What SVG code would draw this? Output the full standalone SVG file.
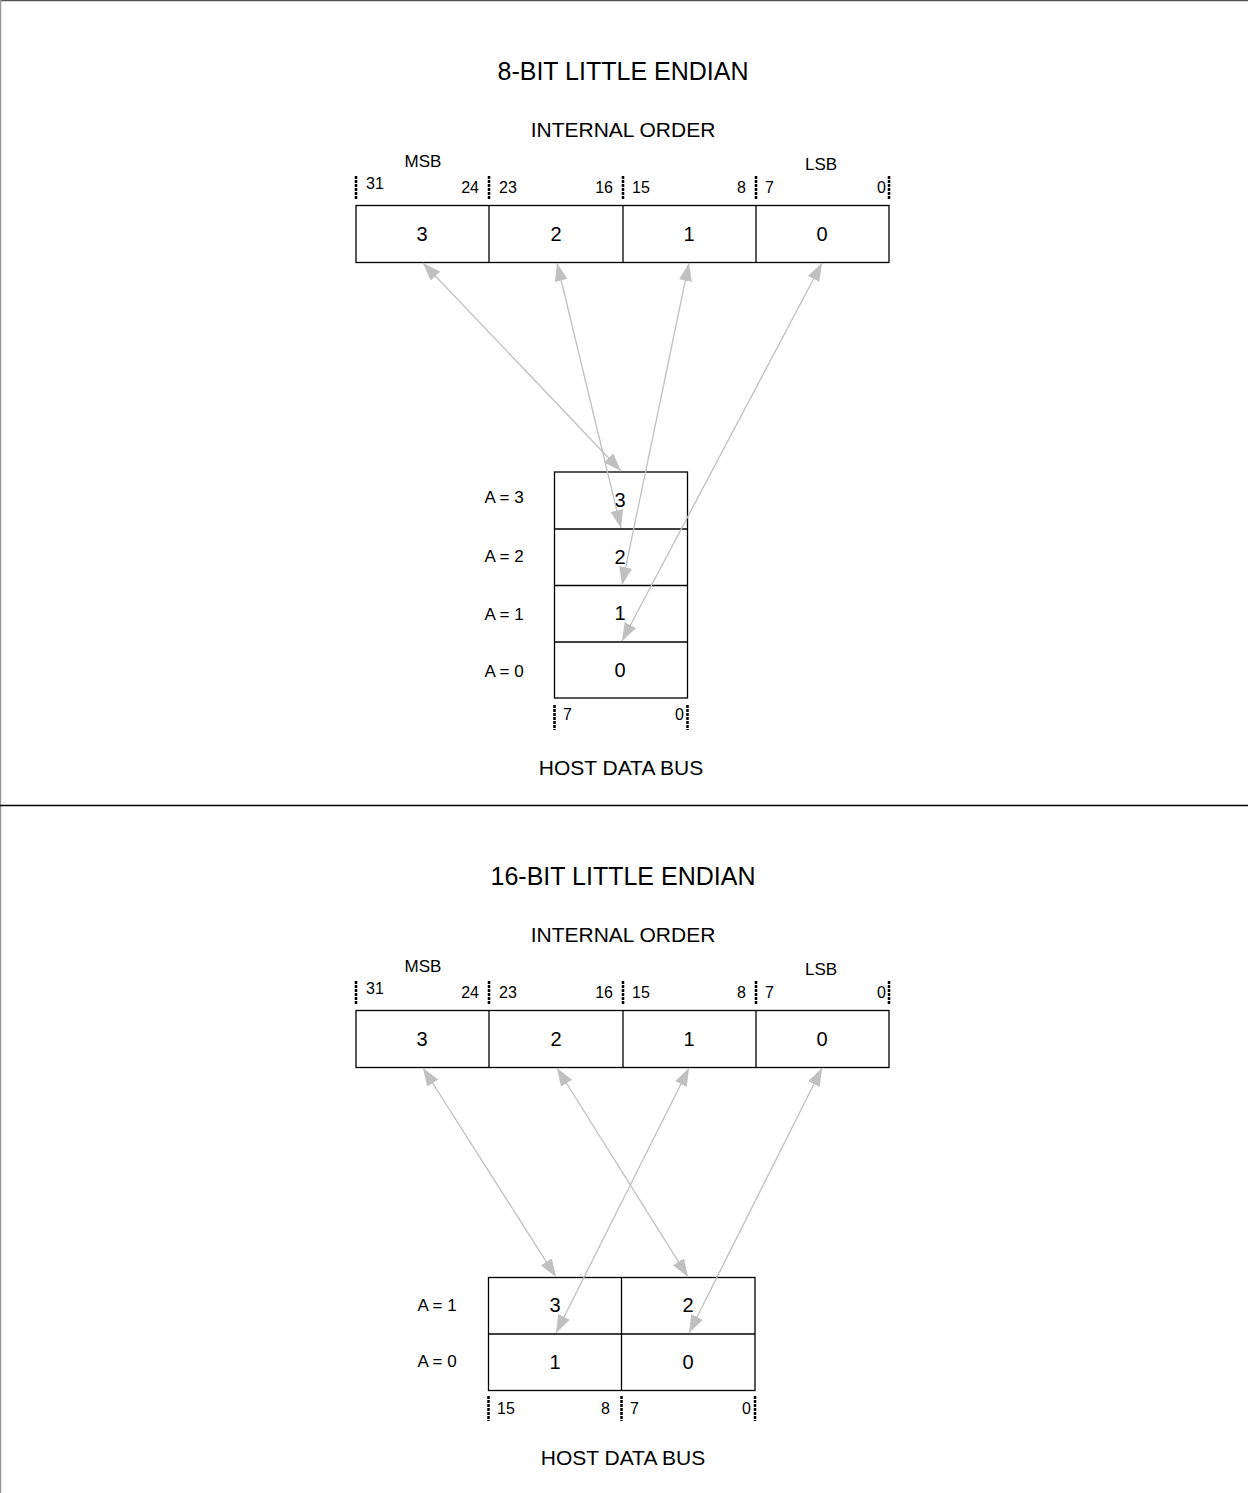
<svg xmlns="http://www.w3.org/2000/svg" width="1248" height="1493" viewBox="0 0 1248 1493">
<style>
text{font-family:"Liberation Sans",Arial,sans-serif;fill:#000}
.title{font-size:25px;text-anchor:middle}
.sub{font-size:21px;text-anchor:middle}
.num{font-size:20px;text-anchor:middle}
.bit{font-size:16px}
.lbl{font-size:17px}
.end{text-anchor:end}
.mid{text-anchor:middle}
.box{fill:#fff;stroke:#000;stroke-width:1.3}
.div{stroke:#000;stroke-width:1.3}
.tick{stroke:#000;stroke-width:2.5;stroke-dasharray:3 1}
.arr{stroke:#c0c0c0;stroke-width:1.3;fill:none;marker-start:url(#ah);marker-end:url(#ah)}
</style>
<defs>
<marker id="ah" viewBox="0 0 18 13" refX="18" refY="6.5" markerWidth="18" markerHeight="13" orient="auto-start-reverse" markerUnits="userSpaceOnUse">
<path d="M0,0 L18,6.5 L0,13 z" fill="#c0c0c0"/>
</marker>
</defs>
<rect x="0" y="0" width="1248" height="1493" fill="#fff"/>
<g id="frame">
<line x1="0" y1="0.5" x2="1248" y2="0.5" stroke="#555" stroke-width="1.5"/>
<line x1="0.5" y1="0" x2="0.5" y2="1493" stroke="#999" stroke-width="1.5"/>
<line x1="0" y1="805.5" x2="1248" y2="805.5" stroke="#000" stroke-width="1.5"/>
</g>

<!-- 8-BIT section -->
<g id="title8">
<text class="title" x="623" y="80">8-BIT LITTLE ENDIAN</text>
<text class="sub" x="623" y="137">INTERNAL ORDER</text>
</g>
<g id="internal8">
<text class="lbl mid" x="423" y="167">MSB</text>
<text class="lbl mid" x="821" y="170">LSB</text>
<line class="tick" x1="356" y1="176" x2="356" y2="200"/>
<line class="tick" x1="489" y1="176" x2="489" y2="200"/>
<line class="tick" x1="623" y1="176" x2="623" y2="200"/>
<line class="tick" x1="756" y1="176" x2="756" y2="200"/>
<line class="tick" x1="889" y1="176" x2="889" y2="200"/>
<text class="bit" x="366" y="189">31</text>
<text class="bit end" x="479" y="193">24</text>
<text class="bit" x="499" y="193">23</text>
<text class="bit end" x="613" y="193">16</text>
<text class="bit" x="632" y="193">15</text>
<text class="bit end" x="746" y="193">8</text>
<text class="bit" x="765" y="193">7</text>
<text class="bit end" x="886" y="193">0</text>
<rect class="box" x="356" y="205.5" width="533" height="57"/>
<line class="div" x1="489" y1="205.5" x2="489" y2="262.5"/>
<line class="div" x1="623" y1="205.5" x2="623" y2="262.5"/>
<line class="div" x1="756" y1="205.5" x2="756" y2="262.5"/>
<text class="num" x="422" y="241">3</text>
<text class="num" x="556" y="241">2</text>
<text class="num" x="689" y="241">1</text>
<text class="num" x="822" y="241">0</text>
</g>
<g id="bus8">
<rect class="box" x="554.5" y="472" width="133" height="226"/>
<line class="div" x1="554.5" y1="529" x2="687.5" y2="529"/>
<line class="div" x1="554.5" y1="585.5" x2="687.5" y2="585.5"/>
<line class="div" x1="554.5" y1="642" x2="687.5" y2="642"/>
<text class="num" x="620" y="507">3</text>
<text class="num" x="620" y="564">2</text>
<text class="num" x="620" y="620">1</text>
<text class="num" x="620" y="677">0</text>
<text class="lbl mid" x="504" y="503">A = 3</text>
<text class="lbl mid" x="504" y="562">A = 2</text>
<text class="lbl mid" x="504" y="620">A = 1</text>
<text class="lbl mid" x="504" y="677">A = 0</text>
<line class="tick" x1="554.5" y1="705" x2="554.5" y2="730"/>
<line class="tick" x1="687.5" y1="705" x2="687.5" y2="730"/>
<text class="bit" x="563" y="720">7</text>
<text class="bit end" x="684" y="720">0</text>
<text class="sub" x="621" y="775">HOST DATA BUS</text>
</g>

<!-- 16-BIT section -->
<g id="title16">
<text class="title" x="623" y="885">16-BIT LITTLE ENDIAN</text>
<text class="sub" x="623" y="942">INTERNAL ORDER</text>
</g>
<g id="internal16">
<text class="lbl mid" x="423" y="972">MSB</text>
<text class="lbl mid" x="821" y="975">LSB</text>
<line class="tick" x1="356" y1="981" x2="356" y2="1005"/>
<line class="tick" x1="489" y1="981" x2="489" y2="1005"/>
<line class="tick" x1="623" y1="981" x2="623" y2="1005"/>
<line class="tick" x1="756" y1="981" x2="756" y2="1005"/>
<line class="tick" x1="889" y1="981" x2="889" y2="1005"/>
<text class="bit" x="366" y="994">31</text>
<text class="bit end" x="479" y="998">24</text>
<text class="bit" x="499" y="998">23</text>
<text class="bit end" x="613" y="998">16</text>
<text class="bit" x="632" y="998">15</text>
<text class="bit end" x="746" y="998">8</text>
<text class="bit" x="765" y="998">7</text>
<text class="bit end" x="886" y="998">0</text>
<rect class="box" x="356" y="1010.5" width="533" height="57"/>
<line class="div" x1="489" y1="1010.5" x2="489" y2="1067.5"/>
<line class="div" x1="623" y1="1010.5" x2="623" y2="1067.5"/>
<line class="div" x1="756" y1="1010.5" x2="756" y2="1067.5"/>
<text class="num" x="422" y="1046">3</text>
<text class="num" x="556" y="1046">2</text>
<text class="num" x="689" y="1046">1</text>
<text class="num" x="822" y="1046">0</text>
</g>
<g id="bus16">
<rect class="box" x="488.5" y="1277.5" width="266.5" height="113"/>
<line class="div" x1="621.5" y1="1277.5" x2="621.5" y2="1390.5"/>
<line class="div" x1="488.5" y1="1334" x2="755" y2="1334"/>
<text class="num" x="555" y="1312">3</text>
<text class="num" x="688" y="1312">2</text>
<text class="num" x="555" y="1369">1</text>
<text class="num" x="688" y="1369">0</text>
<text class="lbl mid" x="437" y="1311">A = 1</text>
<text class="lbl mid" x="437" y="1367">A = 0</text>
<line class="tick" x1="488.5" y1="1396" x2="488.5" y2="1421"/>
<line class="tick" x1="621.5" y1="1396" x2="621.5" y2="1421"/>
<line class="tick" x1="755" y1="1396" x2="755" y2="1421"/>
<text class="bit" x="497" y="1414">15</text>
<text class="bit end" x="610" y="1414">8</text>
<text class="bit" x="630" y="1414">7</text>
<text class="bit end" x="751" y="1414">0</text>
<text class="sub" x="623" y="1465">HOST DATA BUS</text>
</g>

<g id="connectors">
<line class="arr" x1="423" y1="263" x2="621" y2="471"/>
<line class="arr" x1="557" y1="263" x2="621" y2="528"/>
<line class="arr" x1="689" y1="263" x2="622" y2="585"/>
<line class="arr" x1="822" y1="263" x2="622" y2="641"/>
<line class="arr" x1="423" y1="1068" x2="556" y2="1277"/>
<line class="arr" x1="557" y1="1068" x2="688" y2="1277"/>
<line class="arr" x1="689" y1="1068" x2="556" y2="1333"/>
<line class="arr" x1="822" y1="1068" x2="689" y2="1333"/>
</g>
</svg>
